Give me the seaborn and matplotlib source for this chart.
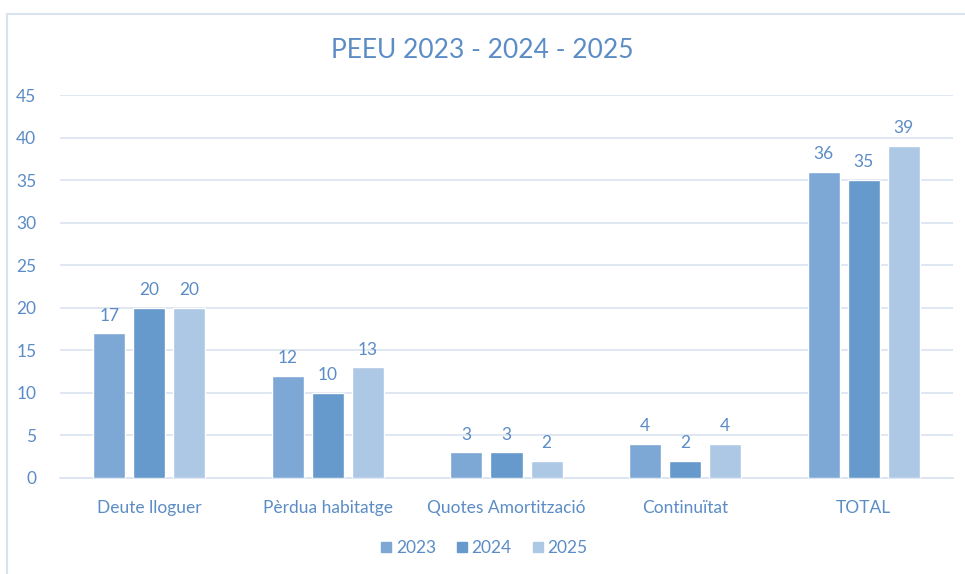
import pandas as pd
import seaborn as sns
import matplotlib.pyplot as plt
from matplotlib.patches import Rectangle
from matplotlib.lines import Line2D

# Chart data
categories = ["Deute lloguer", "Pèrdua habitatge", "Quotes Amortització", "Continuïtat", "TOTAL"]
years = ["2023", "2024", "2025"]
values_2023 = [17, 12, 3, 4, 36]
values_2024 = [20, 10, 3, 2, 35]
values_2025 = [20, 13, 2, 4, 39]

colors = ["#7DA7D4", "#6699CC", "#ADC8E5"]
text_color = "#5B8CC6"
grid_color = "#D9E3F0"

df = pd.DataFrame({
    "categoria": categories * 3,
    "any": [y for y in years for _ in categories],
    "valor": values_2023 + values_2024 + values_2025,
})

sns.set_style("white")
plt.rcParams["font.family"] = ["Lato", "DejaVu Sans"]

fig = plt.figure(figsize=(9.65, 5.74), dpi=100)
ax = fig.add_axes([60 / 965, 96 / 574, 893 / 965, 383 / 574])

sns.barplot(data=df, x="categoria", y="valor", hue="any", palette=colors, saturation=1,
            width=0.672, gap=0.2, ax=ax, legend=False, zorder=3)

for container in ax.containers:
    ax.bar_label(container, padding=7, color=text_color, fontsize=12.5)

ax.set_ylim(0, 45)
ax.set_yticks(range(0, 50, 5))
ax.yaxis.grid(True, color=grid_color, linewidth=1.2, zorder=0)
ax.set_axisbelow(True)
for s in ["top", "right", "left"]:
    ax.spines[s].set_visible(False)
ax.spines["bottom"].set_color(grid_color)
ax.spines["bottom"].set_linewidth(1.2)
ax.tick_params(axis="both", length=0, colors=text_color, labelsize=12.5)
ax.tick_params(axis="y", pad=17)
ax.tick_params(axis="x", pad=16)
ax.set_xlabel("")
ax.set_ylabel("")

fig.text(0.5, 1 - 50 / 574, "PEEU 2023 - 2024 - 2025", ha="center", va="center",
         color=text_color, fontsize=19)

handles = [Line2D([], [], marker="s", linestyle="", markersize=7.5, color=c) for c in colors]
fig.legend(handles, years, loc="center", bbox_to_anchor=(0.5, 1 - 548 / 574), ncol=3,
           frameon=False, fontsize=12.5, labelcolor=text_color, handletextpad=0.05,
           columnspacing=1.0, handlelength=1.0)

# chart frame
fig.patches.append(Rectangle((7 / 965, -0.1), 1.1, 1 - 14 / 574 + 0.1, transform=fig.transFigure,
                             fill=False, edgecolor=grid_color, linewidth=1.5))

fig.savefig("out.png", dpi=100)
